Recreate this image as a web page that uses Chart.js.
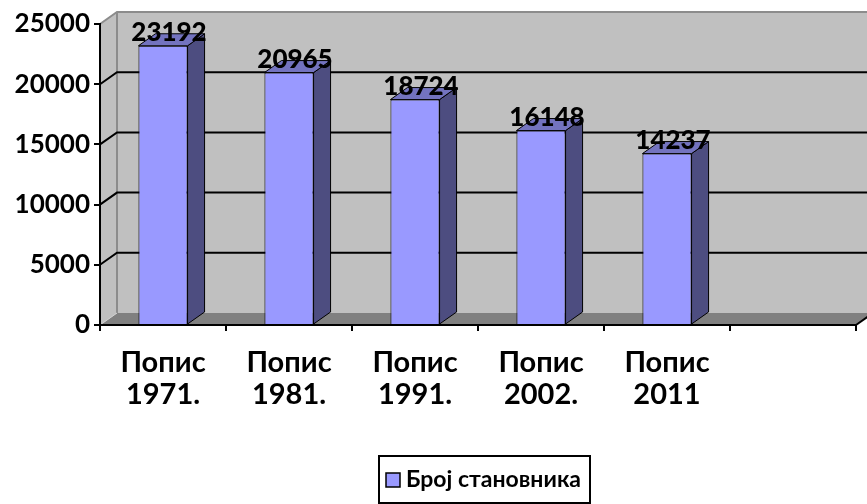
<!DOCTYPE html>
<html>
<head>
<meta charset="utf-8">
<script src="https://cdn.jsdelivr.net/npm/chart.js@4.4.0/dist/chart.umd.min.js"></script>
<style>
  html, body { margin: 0; padding: 0; background: #fff; }
  #wrap { width: 867px; height: 504px; }
</style>
</head>
<body>
<div id="wrap"><canvas id="chart" width="867" height="504"></canvas></div>
<script>
// data
const categories = [['Попис', '1971.'], ['Попис', '1981.'], ['Попис', '1991.'], ['Попис', '2002.'], ['Попис', '2011'], ''];
const population = [23192, 20965, 18724, 16148, 14237, null];
const seriesName = 'Број становника';
const yMax = 25000;
const yStep = 5000;

const FONT = 'Lato, "Open Sans", sans-serif';
const DX = 17, DY = -12;   // 3d depth offset

const walls3d = {
    id: 'walls3d',
    beforeDraw(chart) {
        const {ctx, chartArea: a, scales: {y}} = chart;
        const W = chart.width;
        const top = y.getPixelForValue(yMax), bot = y.getPixelForValue(0);
        ctx.save();
        // back wall
        ctx.fillStyle = '#c0c0c0';
        ctx.fillRect(a.left + DX, top + DY, W - a.left - DX, bot - top);
        // left wall
        ctx.beginPath();
        ctx.moveTo(a.left, top);
        ctx.lineTo(a.left + DX, top + DY);
        ctx.lineTo(a.left + DX, bot + DY);
        ctx.lineTo(a.left, bot);
        ctx.closePath();
        ctx.fill();
        // grey outer edges
        ctx.strokeStyle = '#8c8c8c';
        ctx.lineWidth = 2;
        ctx.beginPath();
        ctx.moveTo(a.left, top);
        ctx.lineTo(a.left + DX, top + DY);
        ctx.lineTo(W, top + DY);
        ctx.moveTo(a.left + DX, top + DY);
        ctx.lineTo(a.left + DX, bot + DY);
        ctx.stroke();
        // gridlines
        ctx.strokeStyle = '#000';
        ctx.lineWidth = 2;
        for (let v = yStep; v < yMax; v += yStep) {
            const py = y.getPixelForValue(v);
            ctx.beginPath();
            ctx.moveTo(a.left, py);
            ctx.lineTo(a.left + DX, py + DY);
            ctx.lineTo(W, py + DY);
            ctx.stroke();
        }
        // floor
        ctx.fillStyle = '#808080';
        ctx.beginPath();
        ctx.moveTo(a.left, bot);
        ctx.lineTo(a.right, bot);
        ctx.lineTo(a.right + DX, bot + DY);
        ctx.lineTo(a.left + DX, bot + DY);
        ctx.closePath();
        ctx.fill();
        ctx.strokeStyle = '#000';
        ctx.lineWidth = 2;
        ctx.beginPath();
        ctx.moveTo(a.right, bot);
        ctx.lineTo(a.right + DX, bot + DY);
        ctx.stroke();
        ctx.strokeStyle = '#d0d0d0';
        ctx.lineWidth = 1;
        ctx.beginPath();
        ctx.moveTo(a.left, bot);
        ctx.lineTo(a.left + DX, bot + DY);
        ctx.stroke();
        ctx.restore();
    },
    afterDatasetsDraw(chart) {
        const {ctx} = chart;
        const meta = chart.getDatasetMeta(0);
        ctx.save();
        ctx.strokeStyle = '#000';
        ctx.lineWidth = 1;
        meta.data.forEach((bar, i) => {
            if (population[i] == null) return;
            const l = bar.x - bar.width / 2, r = bar.x + bar.width / 2;
            // side face
            ctx.fillStyle = '#4d4d80';
            ctx.beginPath();
            ctx.moveTo(r, bar.y);
            ctx.lineTo(r + DX, bar.y + DY);
            ctx.lineTo(r + DX, bar.base + DY);
            ctx.lineTo(r, bar.base);
            ctx.closePath();
            ctx.fill();
            ctx.stroke();
            // top face
            ctx.fillStyle = '#7373bf';
            ctx.beginPath();
            ctx.moveTo(l, bar.y);
            ctx.lineTo(l + DX, bar.y + DY);
            ctx.lineTo(r + DX, bar.y + DY);
            ctx.lineTo(r, bar.y);
            ctx.closePath();
            ctx.fill();
            ctx.stroke();
            // value label
            ctx.fillStyle = '#000';
            ctx.font = '900 26px ' + FONT;
            ctx.textAlign = 'center';
            ctx.textBaseline = 'alphabetic';
            ctx.fillText(String(population[i]), bar.x + 6, bar.y - 5);
        });
        ctx.restore();
    },
    afterDraw(chart) {
        // boxed legend under the axis
        const {ctx} = chart;
        ctx.save();
        ctx.strokeStyle = '#000';
        ctx.lineWidth = 2;
        ctx.strokeRect(379, 456, 211, 47);
        ctx.fillStyle = chart.data.datasets[0].backgroundColor;
        ctx.fillRect(386, 473, 14, 14);
        ctx.lineWidth = 1.5;
        ctx.strokeRect(386, 473, 14, 14);
        ctx.fillStyle = '#000';
        ctx.font = 'bold 23px ' + FONT;
        ctx.textAlign = 'left';
        ctx.textBaseline = 'middle';
        ctx.fillText(seriesName, 406, 480);
        ctx.restore();
    }
};

new Chart(document.getElementById('chart').getContext('2d'), {
    type: 'bar',
    data: {
        labels: categories,
        datasets: [{
            label: seriesName,
            data: population,
            backgroundColor: '#9999ff',
            borderColor: '#000',
            borderWidth: 1,
            categoryPercentage: 1,
            barPercentage: 0.39
        }]
    },
    options: {
        responsive: false,
        animation: false,
        layout: { padding: { top: 24, right: 11, left: 0, bottom: 0 } },
        plugins: {
            legend: { display: false },
            tooltip: { enabled: false }
        },
        scales: {
            x: {
                afterFit(s) { s.height = 179; },
                grid: { drawOnChartArea: false, drawTicks: true, tickLength: 6, color: '#000', lineWidth: 2, offset: true },
                border: { color: '#000', width: 2 },
                ticks: {
                    color: '#000',
                    padding: 15,
                    maxRotation: 0,
                    autoSkip: false,
                    font: { family: FONT, size: 29, weight: 'bold', lineHeight: 1.12 }
                }
            },
            y: {
                min: 0,
                max: yMax,
                afterFit(s) { s.width = 100; },
                grid: { drawOnChartArea: false, drawTicks: true, tickLength: 6, color: '#000', lineWidth: 2 },
                border: { color: '#000', width: 2 },
                ticks: {
                    stepSize: yStep,
                    color: '#000',
                    padding: 4,
                    callback: v => String(v),
                    font: { family: FONT, size: 26, weight: 'bold' }
                }
            }
        }
    },
    plugins: [walls3d]
});
</script>
</body>
</html>
